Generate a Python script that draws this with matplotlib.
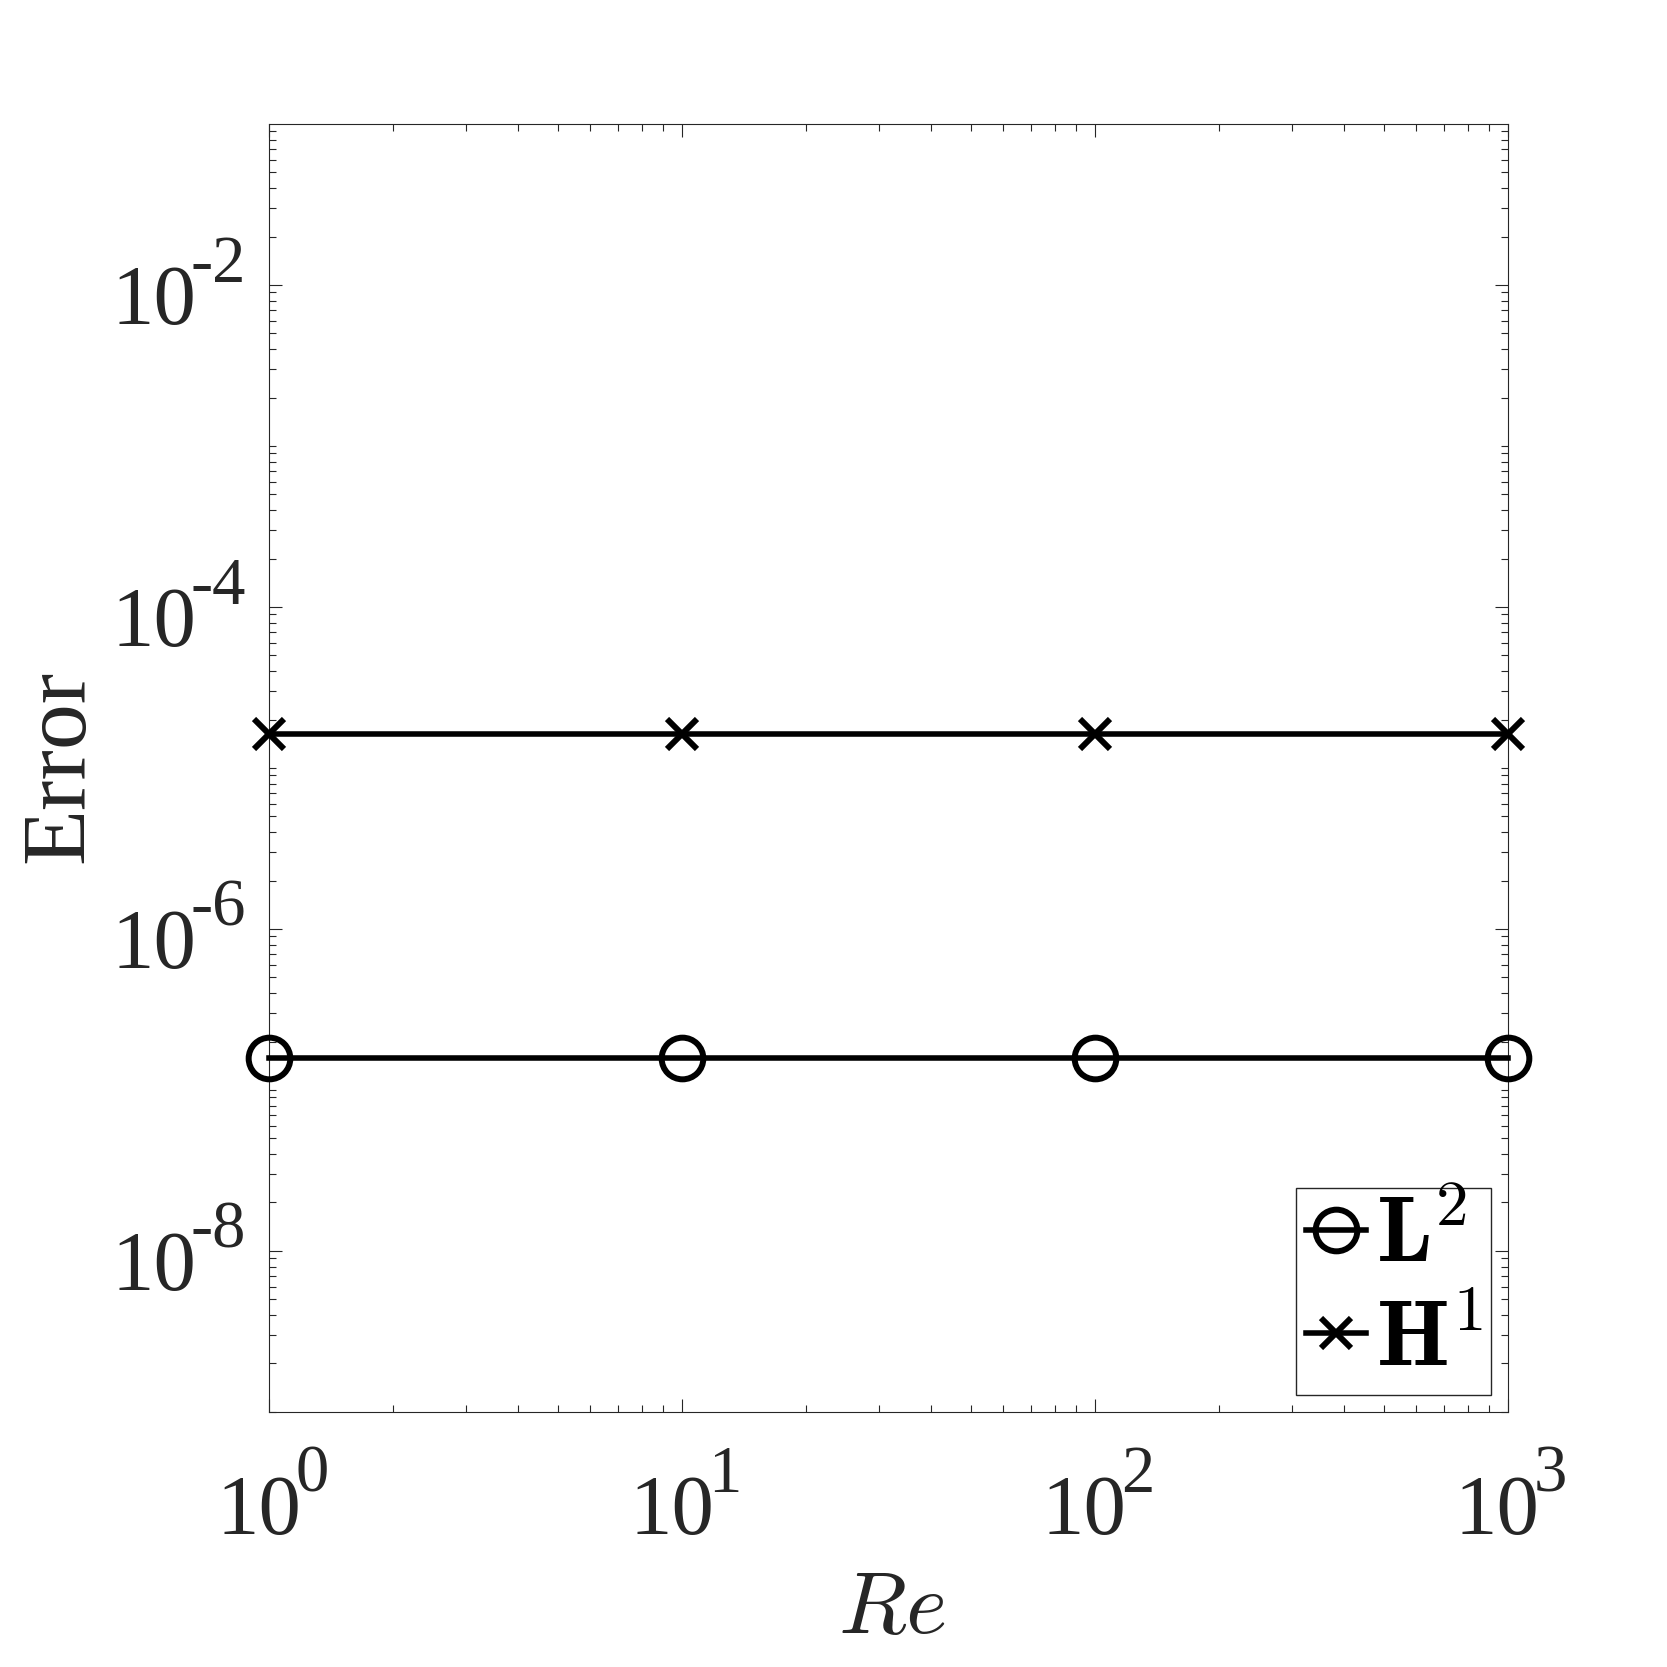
import matplotlib
matplotlib.use('Agg')
import matplotlib.pyplot as plt
from matplotlib.ticker import FixedLocator, NullFormatter
from matplotlib.transforms import offset_copy

plt.rcParams['font.family'] = ['Liberation Serif', 'DejaVu Serif']
plt.rcParams['mathtext.fontset'] = 'cm'

# data
re_values = [1, 10, 100, 1000]
l2_error = [1.57e-7, 1.57e-7, 1.57e-7, 1.57e-7]
h1_error = [1.62e-5, 1.62e-5, 1.62e-5, 1.62e-5]
series_labels = [r'$\mathbf{L}^2$', r'$\mathbf{H}^1$']
x_tick_exps = [0, 1, 2, 3]
y_tick_exps = [-8, -6, -4, -2]
x_label = r'$Re$'
y_label = 'Error'

TXT = '#262626'
DPI = 100

fig = plt.figure(figsize=(16.67, 16.67), dpi=DPI)
ax = fig.add_axes([0.1614, 0.153, 0.7432, 0.7726])

line_kw = dict(color='k', lw=4.0, mew=4.3, clip_on=False, zorder=5)
ax.plot(re_values, l2_error, marker='o', ms=30, mfc='none', label=series_labels[0], **line_kw)
ax.plot(re_values, h1_error, marker='x', ms=21.5, label=series_labels[1], **line_kw)

ax.set_xscale('log')
ax.set_yscale('log')
ax.set_xlim(1, 1000)
ax.set_ylim(1e-9, 1e-1)

xmaj = [10.0 ** e for e in x_tick_exps]
ymaj = [10.0 ** e for e in y_tick_exps]
xmin = [m * 10.0 ** e for e in range(0, 3) for m in range(2, 10)]
ymin = [m * 10.0 ** e for e in range(-9, -1) for m in range(1, 10)
        if 10.0 ** e * m not in ymaj]
ax.xaxis.set_major_locator(FixedLocator(xmaj))
ax.xaxis.set_major_formatter(NullFormatter())
ax.xaxis.set_minor_locator(FixedLocator(xmin))
ax.xaxis.set_minor_formatter(NullFormatter())
ax.yaxis.set_major_locator(FixedLocator(ymaj))
ax.yaxis.set_major_formatter(NullFormatter())
ax.yaxis.set_minor_locator(FixedLocator(ymin))
ax.yaxis.set_minor_formatter(NullFormatter())

ax.tick_params(which='both', direction='in', top=True, right=True, color=TXT, width=0.8)
ax.tick_params(which='major', length=9.5)
ax.tick_params(which='minor', length=5)
for s in ax.spines.values():
    s.set_color(TXT)
    s.set_linewidth(0.8)

BASE_FS = 61
EXP_FS = 48

# x tick labels: "10" with raised exponent (MATLAB style)
xt = ax.get_xaxis_transform()
for e, xv in zip(x_tick_exps, xmaj):
    ax.text(xv, 0, '10', transform=offset_copy(xt, fig, x=-53, y=-122, units='dots'),
            ha='left', va='baseline', fontsize=BASE_FS, color=TXT, clip_on=False)
    ax.text(xv, 0, '%d' % e, transform=offset_copy(xt, fig, x=26, y=-80, units='dots'),
            ha='left', va='baseline', fontsize=EXP_FS, color=TXT, clip_on=False)

# y tick labels
yt = ax.get_yaxis_transform()
for e, yv in zip(y_tick_exps, ymaj):
    ax.text(0, yv, '10', transform=offset_copy(yt, fig, x=-158, y=-39, units='dots'),
            ha='left', va='baseline', fontsize=BASE_FS, color=TXT, clip_on=False)
    ax.text(0, yv, '-%d' % (-e), transform=offset_copy(yt, fig, x=-79, y=3, units='dots'),
            ha='left', va='baseline', fontsize=EXP_FS, color=TXT, clip_on=False)

fig.text(892 / 1667, 1 - 1633 / 1667, x_label, ha='center', va='baseline',
         fontsize=64, color=TXT)
fig.text(83 / 1667, 1 - 766 / 1667, y_label, rotation=90, rotation_mode='anchor',
         ha='center', va='baseline', fontsize=66, color=TXT)

leg = ax.legend(loc='lower right', fontsize=67, handlelength=0.65, handletextpad=0.1,
                borderpad=0.1, borderaxespad=0.18, labelspacing=0.2, fancybox=False,
                framealpha=1, edgecolor=TXT)
leg.get_frame().set_linewidth(1.0)

fig.savefig('out.png', dpi=DPI, facecolor='white')
